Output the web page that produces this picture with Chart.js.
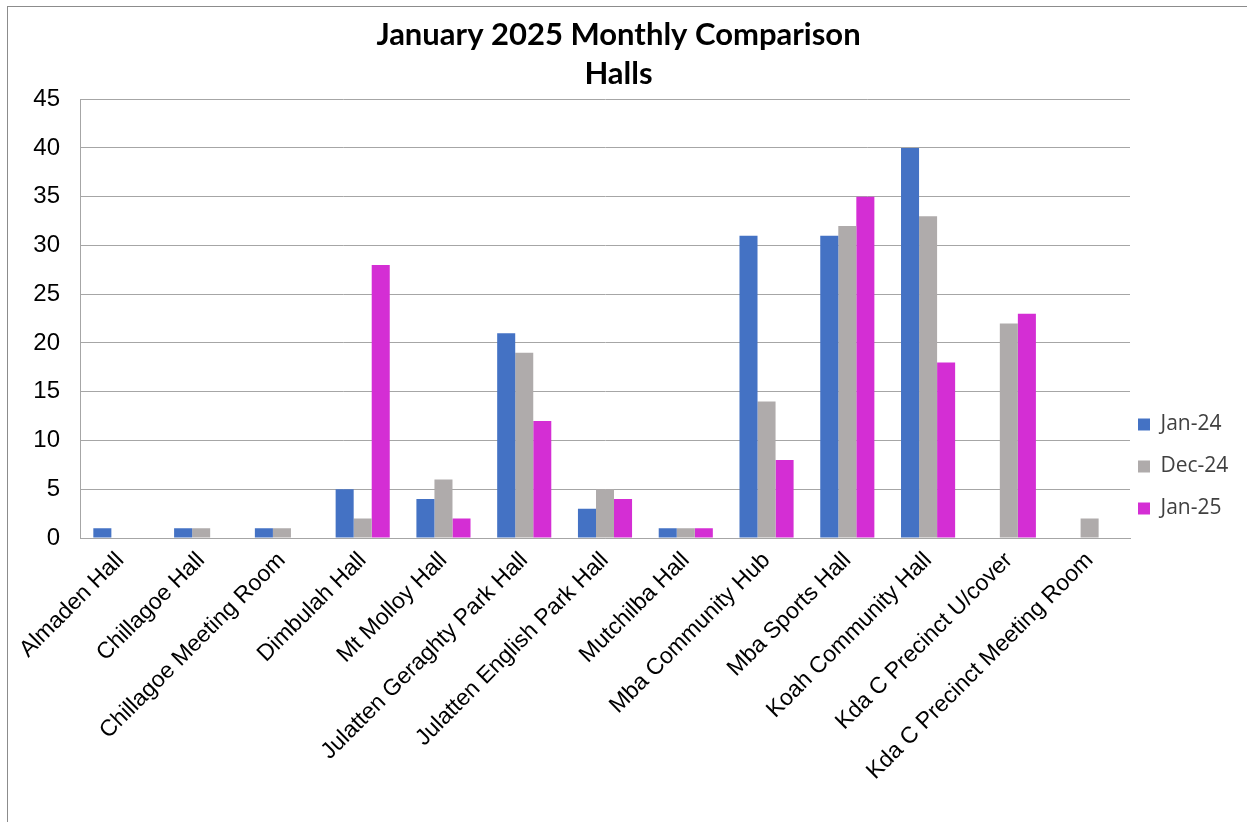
<!DOCTYPE html>
<html>
<head>
<meta charset="utf-8">
<script src="https://cdn.jsdelivr.net/npm/chart.js@4.4.1/dist/chart.umd.min.js"></script>
<style>
  html, body { margin: 0; padding: 0; background: #fff; width: 1247px; height: 822px; overflow: hidden; }
  #frame { position: absolute; left: 7px; top: 6px; width: 1240px; height: 816px;
           border-left: 1px solid #8c8c8c; border-top: 1px solid #8c8c8c; box-sizing: border-box; }
  #wrap { position: absolute; left: 0; top: 0; width: 1239px; height: 815px; }
</style>
</head>
<body>
<div id="frame"><div id="wrap"><canvas id="c"></canvas></div></div>
<script>
const categories = [
  "Almaden Hall", "Chillagoe Hall", "Chillagoe Meeting Room", "Dimbulah Hall",
  "Mt Molloy Hall", "Julatten Geraghty Park Hall", "Julatten English Park Hall",
  "Mutchilba Hall", "Mba Community Hub", "Mba Sports Hall", "Koah Community Hall",
  "Kda C Precinct U/cover", "Kda C Precinct Meeting Room"
];
const jan24 = [1, 1, 1, 5, 4, 21, 3, 1, 31, 31, 40, 0, 0];
const dec24 = [0, 1, 1, 2, 6, 19, 5, 1, 14, 32, 33, 22, 2];
const jan25 = [0, 0, 0, 28, 2, 12, 4, 1, 8, 35, 18, 23, 0];
const seriesNames = ["Jan-24", "Dec-24", "Jan-25"];
const yTicks = [0, 5, 10, 15, 20, 25, 30, 35, 40, 45];
const titleLines = ["January 2025 Monthly Comparison", "Halls"];

const colors = ["#4472C4", "#AFABAB", "#D42ED4"];
const gridColor = "#A6A6A6";

const LEGEND_WIDTH = 117;   // space reserved right of the plot
const LEGEND_GAP = 8;       // gap between plot edge and legend box
const LEGEND_SHIFT = 52;    // move legend down (reference is centred lower)
const TITLE_SHIFT = -9;     // reference title sits slightly left of centre

const layoutTweak = {
  id: "layoutTweak",
  beforeLayout(chart) {
    const lg = chart.legend;
    if (lg && !lg._patched) {
      const orig = lg.fit.bind(lg);
      lg.fit = function () { orig(); this.width = LEGEND_WIDTH; };
      lg._patched = true;
    }
  },
  afterLayout(chart) {
    const lg = chart.legend;
    if (lg) {
      const pad = lg.options.labels.padding;
      lg.left = chart.chartArea.right + LEGEND_GAP - pad;
      lg.top += LEGEND_SHIFT;
      lg.bottom += LEGEND_SHIFT;
    }
    const tb = chart.titleBlock;
    if (tb) {
      tb.left += TITLE_SHIFT;
      tb.right += TITLE_SHIFT;
    }
  }
};

new Chart(document.getElementById("c"), {
  type: "bar",
  data: {
    labels: categories,
    datasets: [jan24, dec24, jan25].map((d, i) => ({
      label: seriesNames[i],
      data: d,
      backgroundColor: colors[i],
      borderWidth: 0,
      categoryPercentage: 0.67,
      barPercentage: 1.0
    }))
  },
  plugins: [layoutTweak],
  options: {
    responsive: true,
    maintainAspectRatio: false,
    animation: false,
    layout: { padding: { left: 0, right: 0, top: 0, bottom: 0 } },
    plugins: {
      title: {
        display: true,
        text: titleLines,
        color: "#000",
        font: { family: "Lato", size: 31, weight: "bold", lineHeight: 1.26 },
        padding: { top: 8, bottom: 6 }
      },
      legend: {
        position: "right",
        align: "center",
        labels: {
          boxWidth: 12,
          boxHeight: 12,
          padding: 21,
          color: "#404040",
          font: { family: "Open Sans", size: 21 }
        }
      },
      tooltip: { enabled: false }
    },
    scales: {
      x: {
        grid: { display: false },
        border: { display: true, color: gridColor, width: 1 },
        ticks: {
          color: "#000",
          font: { family: "Liberation Sans", size: 23 },
          minRotation: 45,
          maxRotation: 45,
          autoSkip: false,
          padding: 1
        },
        afterFit: (s) => { s.height = 284; }
      },
      y: {
        min: 0,
        max: 45,
        afterBuildTicks: (s) => { s.ticks = yTicks.map(v => ({ value: v })); },
        grid: { color: gridColor, lineWidth: 1, drawTicks: false },
        border: { display: true, color: gridColor, width: 1 },
        ticks: {
          color: "#000",
          font: { family: "Liberation Sans", size: 24 },
          padding: 20
        },
        afterFit: (s) => { s.width = 72; }
      }
    }
  }
});
</script>
</body>
</html>
